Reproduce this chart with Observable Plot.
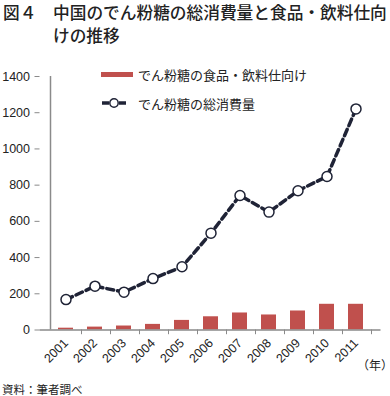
<!DOCTYPE html>
<html><head><meta charset="utf-8">
<script src="https://cdn.jsdelivr.net/npm/d3@7"></script>
<script src="https://cdn.jsdelivr.net/npm/@observablehq/plot@0.6"></script>
<style>
body{margin:0;background:#fff;}
#wrap{position:relative;width:390px;height:396px;overflow:hidden;font-family:"Noto Sans CJK JP",sans-serif;color:#222;background:#fff;}
.abs{position:absolute;white-space:nowrap;line-height:1;}
.t1{left:3px;top:4px;font-size:16.7px;font-weight:500;}
.t2{left:53px;top:27px;font-size:16.7px;font-weight:500;}
.unit{left:8px;top:56.5px;font-size:11px;}
.lg{font-size:13px;}
.yr{left:363px;top:359px;font-size:12px;font-feature-settings:"halt";}
.src{left:2px;top:384px;font-size:11.5px;}
#chart{position:absolute;left:0;top:50px;}
</style></head><body>
<div id="wrap">
  <div class="abs t1">図４　中国のでん粉糖の総消費量と食品・飲料仕向</div>
  <div class="abs t2">けの推移</div>
  <div class="abs unit">（万トン）</div>
  <div id="chart"></div>
  <div class="abs" style="left:101px;top:72px;width:32px;height:5px;background:#c0504d;"></div>
  <div class="abs lg" style="left:138px;top:67.5px;">でん粉糖の食品・飲料仕向け</div>
  <svg class="abs" style="left:98px;top:95px;" width="36" height="16">
    <line x1="4" y1="8" x2="11" y2="8" stroke="#1f2336" stroke-width="3.5"/>
    <line x1="21" y1="8" x2="28" y2="8" stroke="#1f2336" stroke-width="3.5"/>
    <circle cx="16" cy="8" r="4.2" fill="#fff" stroke="#1f2336" stroke-width="1.5"/>
  </svg>
  <div class="abs lg" style="left:138px;top:96.5px;">でん粉糖の総消費量</div>
  <div class="abs yr">（年）</div>
  <div class="abs src">資料：筆者調べ</div>
</div>
<script>
const years = ["2001","2002","2003","2004","2005","2006","2007","2008","2009","2010","2011"];
const foodUse = [10,16,22,31,53,73,94,83,105,142,142];
const totalUse = [168,242,209,284,349,535,743,651,769,848,1221];
const yTicks = [0,200,400,600,800,1000,1200,1400];

const data = years.map((y,i)=>({year:y, food:foodUse[i], total:totalUse[i]}));
const ink = "#1f2336";
const axisGray = "#8a8a8a";

const chart = Plot.plot({
  width: 390,
  height: 322,
  marginTop: 26,
  marginBottom: 42.5,
  marginLeft: 39.5,
  marginRight: 9.5,
  style: {fontFamily: "'Liberation Sans', Arial, sans-serif", fontSize: "12.5px", color: "#222", background: "#fff"},
  x: {domain: years, padding: 0.5, align: 0.5},
  y: {domain: [0,1400]},
  marks: [
    Plot.barY(data, {x:"year", y:"food", fill:"#c0504d"}),
    Plot.ruleY([0], {stroke: axisGray, strokeWidth: 1.5}),
    Plot.ruleX([years[0]], {dx:-15.5, y1:0, y2:1400, stroke: axisGray, strokeWidth: 1.5}),
    Plot.ruleX(years, {dx:15.5, y1:0, y2:-26, stroke: axisGray, strokeWidth: 1}),
    Plot.axisY({ticks: yTicks, tickFormat: d => String(d), tickSize: 5, tickPadding: 5, stroke: axisGray, fill: "#222", label: null, fontSize: 12.5}),
    Plot.axisX({tickSize: 0, tickPadding: 11, tickRotate: -45, textAnchor: "end", label: null, fontSize: 12.5, fill: "#222"}),
    Plot.line(data, {x:"year", y:"total", stroke: ink, strokeWidth: 3.5, strokeDasharray: "7,4"}),
    Plot.dot(data, {x:"year", y:"total", r: 5, fill: "#fff", stroke: ink, strokeWidth: 1.5})
  ]
});
document.getElementById("chart").appendChild(chart);
</script>
</body></html>
